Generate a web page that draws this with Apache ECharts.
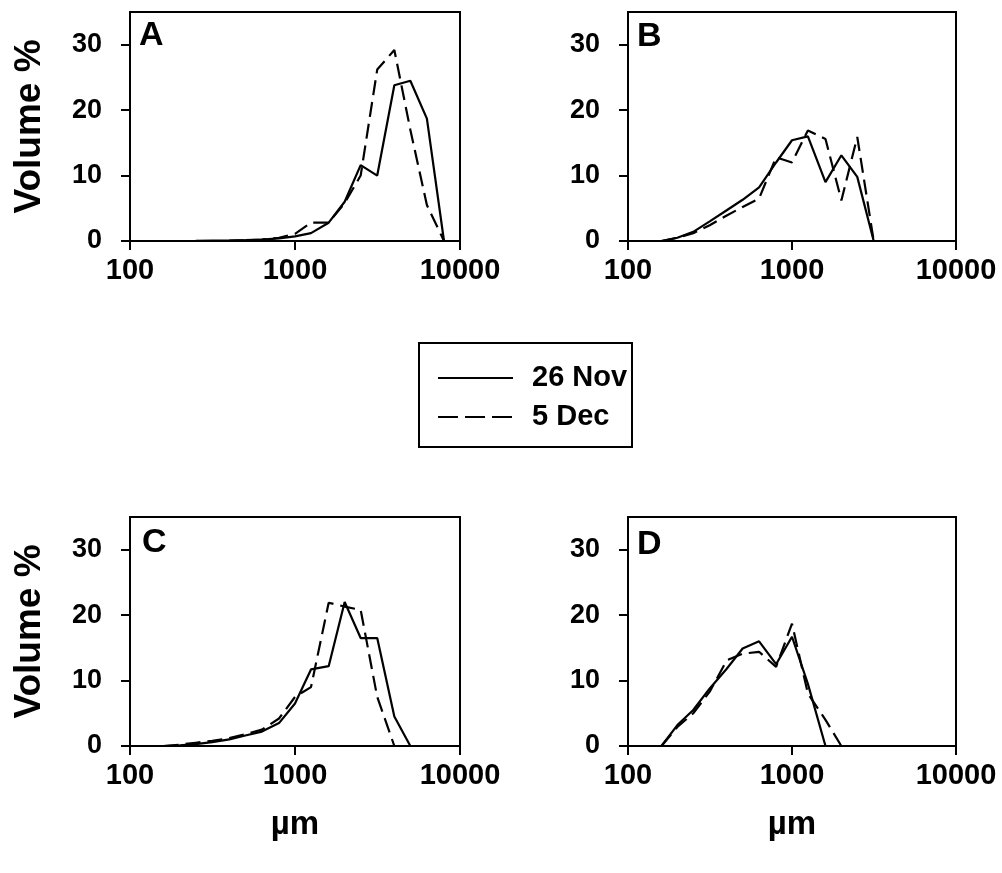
<!DOCTYPE html>
<html>
<head>
<meta charset="utf-8">
<script src="https://cdn.jsdelivr.net/npm/echarts@6/dist/echarts.min.js"></script>
<style>
html,body{margin:0;padding:0;background:#fff;}
#chart{width:1002px;height:873px;}
</style>
</head>
<body>
<div id="chart"></div>
<script>
// particle size classes (µm)
const SIZES = [160, 200, 250, 315, 400, 500, 630, 800, 1000, 1250, 1600, 2000, 2500, 3150, 4000, 5000, 6300, 8000];
const X_TICKS = [100, 1000, 10000];
const Y_TICKS = [0, 10, 20, 30];
const PANELS = ['A', 'B', 'C', 'D'];
const SERIES_NAMES = ['26 Nov', '5 Dec'];

// Volume % values, aligned with SIZES (null = no point)
const A_NOV = [null, 0, 0.02, 0.05, 0.08, 0.12, 0.2, 0.4, 0.7, 1.2, 2.8, 6.0, 11.6, 10.0, 23.8, 24.5, 18.7, 0];
const A_DEC = [null, null, null, null, 0.05, 0.1, 0.2, 0.5, 1.1, 2.8, 2.8, 5.8, 10.0, 26.2, 29.2, 17.0, 5.5, 0];
const B_NOV = [0, 0.5, 1.4, 3.0, 4.7, 6.3, 8.2, 12.0, 15.4, 16.0, 9.0, 13.1, 9.8, 0, null, null, null, null];
const B_DEC = [0, 0.5, 1.2, 2.4, 3.9, 5.2, 6.5, 12.8, 12.0, 16.9, 15.6, 6.2, 15.9, 0, null, null, null, null];
const C_NOV = [0, 0.1, 0.3, 0.6, 1.0, 1.6, 2.2, 3.5, 6.5, 11.7, 12.2, 22.0, 16.5, 16.5, 4.5, 0, null, null];
const C_DEC = [0, 0.2, 0.5, 0.8, 1.2, 1.8, 2.5, 4.2, 7.5, 9.0, 21.9, 21.3, 20.8, 7.5, 0, null, null, null];
const D_NOV = [0, 3.2, 5.5, 8.8, 11.8, 14.9, 16.0, 12.5, 16.7, 9.5, 0, null, null, null, null, null, null, null];
const D_DEC = [0, 2.9, 5.0, 8.3, 13.1, 14.1, 14.4, 12.1, 18.7, 8.0, 4.0, 0, null, null, null, null, null, null];

const DATA = [[A_NOV, A_DEC], [B_NOV, B_DEC], [C_NOV, C_DEC], [D_NOV, D_DEC]];

const FONT = "'Liberation Sans', Arial, sans-serif";
const grids = [
  {left: 130, top: 12, width: 330, height: 229},
  {left: 628, top: 12, width: 328, height: 229},
  {left: 130, top: 517, width: 330, height: 229},
  {left: 628, top: 517, width: 328, height: 229}
].map(g => Object.assign(g, {show: true, borderColor: '#000', borderWidth: 2, backgroundColor: 'transparent'}));

const xAxes = grids.map((g, i) => ({
  type: 'log', logBase: 10, gridIndex: i, min: 100, max: 10000,
  name: i >= 2 ? 'µm' : '', nameLocation: 'middle', nameGap: 62,
  nameTextStyle: {fontFamily: FONT, fontWeight: 'bold', fontSize: 33, color: '#000'},
  axisLine: {lineStyle: {color: '#000', width: 2}},
  axisTick: {show: true, inside: false, length: 9, lineStyle: {color: '#000', width: 2}, customValues: X_TICKS},
  minorTick: {show: false},
  splitLine: {show: false},
  axisLabel: {fontFamily: FONT, fontWeight: 'bold', fontSize: 29, color: '#000', margin: 15, customValues: X_TICKS,
    formatter: v => String(Math.round(v))}
}));

const yAxes = grids.map((g, i) => ({
  type: 'value', gridIndex: i, min: 0, max: 35,
  name: (i % 2 === 0) ? 'Volume %' : '', nameLocation: 'middle', nameGap: 82, nameRotate: 90,
  nameTextStyle: {fontFamily: FONT, fontWeight: 'bold', fontSize: 37, color: '#000'},
  axisLine: {lineStyle: {color: '#000', width: 2}},
  axisTick: {show: true, inside: false, length: 9, lineStyle: {color: '#000', width: 2}, customValues: Y_TICKS},
  splitLine: {show: false},
  axisLabel: {fontFamily: FONT, fontWeight: 'bold', fontSize: 27, color: '#000', margin: 28, customValues: Y_TICKS}
}));

const series = [];
DATA.forEach((pair, i) => {
  pair.forEach((vals, k) => {
    const pts = [];
    vals.forEach((v, j) => { if (v !== null) pts.push([SIZES[j], v]); });
    series.push({
      type: 'line', name: SERIES_NAMES[k], xAxisIndex: i, yAxisIndex: i,
      data: pts, symbol: 'none', animation: false,
      lineStyle: {color: '#000', width: 2.2, type: k === 0 ? 'solid' : [15, 7]}
    });
  });
});

const letterPos = [[139, 37], [637, 38], [142, 544], [637, 546]];
const graphics = PANELS.map((p, i) => ({
  type: 'text', left: letterPos[i][0], top: letterPos[i][1] - 18,
  style: {text: p, fontFamily: FONT, fontWeight: 'bold', fontSize: 34, fill: '#000'}
}));

// legend box
graphics.push({type: 'rect', shape: {x: 419, y: 343, width: 213, height: 104}, style: {fill: '#fff', stroke: '#000', lineWidth: 2}});
graphics.push({type: 'line', shape: {x1: 438, y1: 378, x2: 513, y2: 378}, style: {stroke: '#000', lineWidth: 2}});
graphics.push({type: 'line', shape: {x1: 438, y1: 417, x2: 513, y2: 417}, style: {stroke: '#000', lineWidth: 2, lineDash: [20, 7]}});
graphics.push({type: 'text', x: 532, y: 378, style: {text: SERIES_NAMES[0], fontFamily: FONT, fontWeight: 'bold', fontSize: 29, fill: '#000', verticalAlign: 'middle'}});
graphics.push({type: 'text', x: 532, y: 417, style: {text: SERIES_NAMES[1], fontFamily: FONT, fontWeight: 'bold', fontSize: 29, fill: '#000', verticalAlign: 'middle'}});

const chart = echarts.init(document.getElementById('chart'), null, {renderer: 'canvas'});
chart.setOption({
  animation: false,
  backgroundColor: '#fff',
  grid: grids,
  xAxis: xAxes,
  yAxis: yAxes,
  series: series,
  graphic: graphics
});
</script>
</body>
</html>
